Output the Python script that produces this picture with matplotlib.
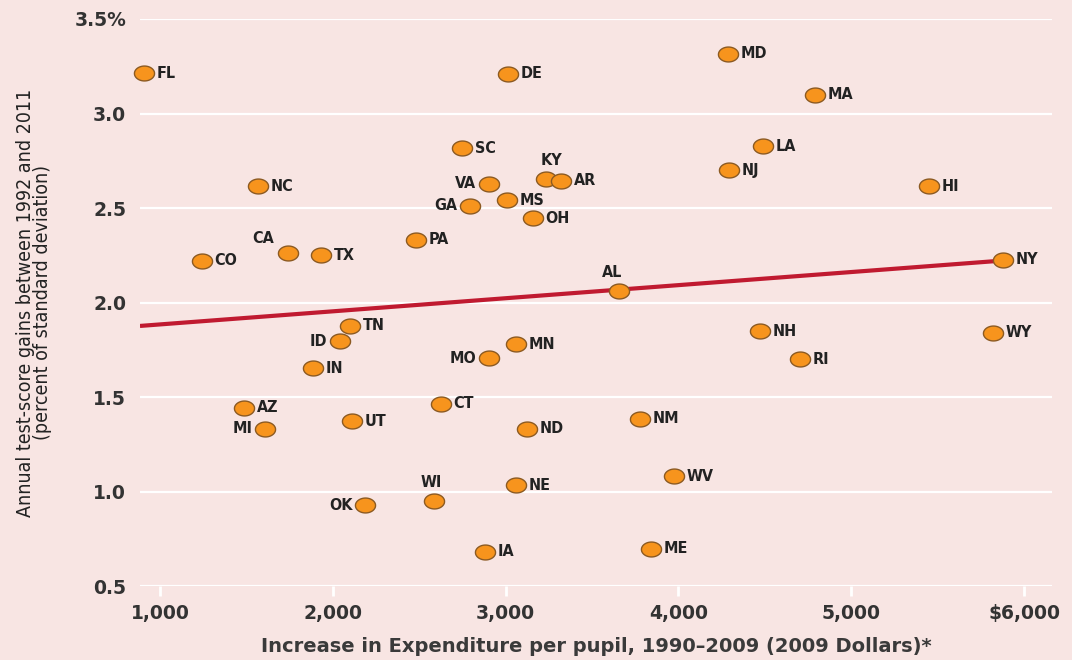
import numpy as np
import matplotlib
matplotlib.use("Agg")
import matplotlib.pyplot as plt
from matplotlib.path import Path

# ── data ───────────────────────────────────────────────────────────────────
states = ["FL", "DE", "MD", "MA", "SC", "KY", "AR", "LA", "NJ", "HI",
          "NC", "VA", "GA", "MS", "OH", "PA", "CA", "TX", "CO", "AL",
          "NY", "TN", "ID", "IN", "MO", "MN", "NH", "WY", "RI", "AZ",
          "MI", "UT", "CT", "ND", "NM", "WV", "WI", "NE", "OK", "IA", "ME"]
spend = [907, 3014, 4287, 4790, 2748, 3234, 3321, 4490, 4293, 5450,
         1567, 2904, 2794, 3008, 3159, 2481, 1741, 1932, 1243, 3656,
         5878, 2100, 2042, 1885, 2904, 3060, 4472, 5821, 4704, 1486,
         1608, 2111, 2626, 3124, 3778, 3975, 2586, 3060, 2186, 2881, 3841]
gains = [3.214, 3.210, 3.315, 3.098, 2.817, 2.653, 2.643, 2.828, 2.701, 2.616,
         2.616, 2.627, 2.511, 2.542, 2.447, 2.331, 2.262, 2.251, 2.220, 2.061,
         2.225, 1.876, 1.796, 1.653, 1.706, 1.780, 1.849, 1.839, 1.701, 1.442,
         1.331, 1.373, 1.463, 1.331, 1.384, 1.082, 0.950, 1.034, 0.928, 0.680, 0.696]

# labels that do not sit to the right of their dot
label_left = {"VA", "GA", "ID", "MO", "MI", "OK"}
label_above = {"KY": (-4, 8), "AL": (-12, 8), "WI": (-10, 8), "CA": (-26, 5)}

trend_x = [884, 5878]
trend_y = [1.876, 2.222]

x_ticks = [1000, 2000, 3000, 4000, 5000, 6000]
x_labels = ["1,000", "2,000", "3,000", "4,000", "5,000", "$6,000"]
y_ticks = [0.5, 1.0, 1.5, 2.0, 2.5, 3.0, 3.5]
y_labels = ["0.5", "1.0", "1.5", "2.0", "2.5", "3.0", "3.5%"]

BG = "#f8e5e3"
ORANGE = "#f7941d"
EDGE = "#8c5a22"
RED = "#c01a30"

plt.rcParams["font.family"] = ["DejaVu Sans"]

# slightly wide elliptical dot, as in the original
t = np.linspace(0, 2 * np.pi, 60)
dot = Path(np.column_stack([np.cos(t), 0.74 * np.sin(t)]))

fig = plt.figure(figsize=(10.72, 6.6), dpi=100, facecolor=BG)
ax = fig.add_axes([140 / 1072, 1 - 586 / 660, (1052 - 140) / 1072, (586 - 19) / 660])
ax.set_facecolor(BG)

ax.set_xlim(884, 6162)
ax.set_ylim(0.5, 3.5)

for yv in y_ticks:
    ax.axhline(yv, color="white", lw=1.6, zorder=1)

ax.plot(trend_x, trend_y, color=RED, lw=3, solid_capstyle="butt", zorder=2)
ax.scatter(spend, gains, marker=dot, s=210, color=ORANGE, edgecolor=EDGE,
           linewidth=1.0, zorder=3, clip_on=False)

label_font = dict(fontstretch="condensed", fontweight="bold", fontsize=11.5,
                  color="#222222")
for st, xv, yv in zip(states, spend, gains):
    if st in label_above:
        dx, dy = label_above[st]
        ax.annotate(st, (xv, yv), xytext=(dx, dy), textcoords="offset points",
                    ha="left", va="bottom", **label_font)
    elif st in label_left:
        ax.annotate(st, (xv, yv), xytext=(-9, 0), textcoords="offset points",
                    ha="right", va="center", **label_font)
    else:
        ax.annotate(st, (xv, yv), xytext=(9, 0), textcoords="offset points",
                    ha="left", va="center", **label_font)

for s in ax.spines.values():
    s.set_visible(False)

ax.set_xticks(x_ticks)
ax.set_xticklabels(x_labels)
ax.set_yticks(y_ticks)
ax.set_yticklabels(y_labels)
ax.tick_params(axis="x", length=7, width=2, color="white", direction="out",
               pad=6, labelsize=13.5, labelcolor="#333333")
ax.tick_params(axis="y", length=0, pad=10, labelsize=13.5, labelcolor="#333333")
for lab in ax.get_xticklabels() + ax.get_yticklabels():
    lab.set_fontweight("bold")

ax.set_xlabel("Increase in Expenditure per pupil, 1990\u20132009 (2009 Dollars)*",
              fontsize=14, fontweight="bold", color="#3a3a3a", labelpad=10)
ax.set_ylabel("Annual test-score gains between 1992 and 2011\n(percent of standard deviation)",
              fontstretch="condensed", fontsize=14, color="#222222",
              labelpad=16, linespacing=0.85)

fig.savefig("out.png", dpi=100, facecolor=BG)
